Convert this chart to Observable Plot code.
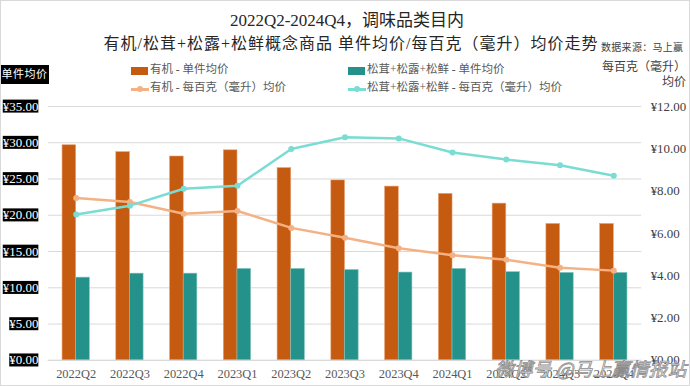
<!DOCTYPE html>
<html>
<head>
<meta charset="utf-8">
<script src="https://cdn.jsdelivr.net/npm/d3@7"></script>
<script src="https://cdn.jsdelivr.net/npm/@observablehq/plot@0.6"></script>
<style>
  html, body { margin: 0; padding: 0; background: #fff; }
  #wrap { position: relative; width: 690px; height: 386px; box-sizing: border-box; border: 1px solid #d9d9d9; overflow: hidden;
          font-family: "Liberation Serif", "Noto Sans CJK SC", serif; color: #404040; }
  .abs { position: absolute; white-space: nowrap; line-height: 1; z-index: 2; }
  #t1 { left: 0; width: 692px; top: 11px; text-align: center; font-size: 17px; color: #262626; }
  #t2 { left: 0; width: 700px; top: 35px; text-align: center; font-size: 16px; color: #262626; letter-spacing: 1px; }
  #src { left: 600px; top: 42px; font-size: 10px; color: #404040; letter-spacing: 0.3px; }
  #rt1 { left: 601px; top: 60px; font-size: 12px; color: #404040; }
  #rt2 { left: 661px; top: 75px; font-size: 12px; color: #404040; }
  #lt { left: -1px; top: 64px; width: 49px; height: 19px; background: #000; color: #fff; font-size: 11px; line-height: 19px; text-align: center; letter-spacing: 0.5px; }
  .leg { font-size: 11.5px; color: #595959; }
  #chart { position: absolute; left: -1px; top: 94px; z-index: 1; }
  #wm { left: 494px; top: 358px; font-size: 18.5px; color: #fff; font-family: "Noto Sans CJK SC", sans-serif; font-style: italic;
        -webkit-text-stroke: 0.8px #8c8c8c; letter-spacing: 0.3px; z-index: 3; }
</style>
</head>
<body>
<div id="wrap">
  <div id="chart"></div>
  <div id="t1" class="abs">2022Q2-2024Q4，调味品类目内</div>
  <div id="t2" class="abs">有机/松茸+松露+松鲜概念商品 单件均价/每百克（毫升）均价走势</div>
  <div id="src" class="abs">数据来源：马上赢</div>
  <div id="rt1" class="abs">每百克（毫升）</div>
  <div id="rt2" class="abs">均价</div>
  <div id="lt" class="abs">单件均价</div>
  <div id="legend"></div>
  <div id="wm" class="abs">微博号 @马上赢情报站</div>
</div>
<script>
const quarters = ["2022Q2","2022Q3","2022Q4","2023Q1","2023Q2","2023Q3","2023Q4","2024Q1","2024Q2","2024Q3","2024Q4"];
const organicUnit = [29.65, 28.7, 28.1, 28.95, 26.5, 24.8, 23.95, 22.95, 21.6, 18.8, 18.8];
const matsutakeUnit = [11.4, 11.95, 11.95, 12.6, 12.6, 12.45, 12.1, 12.6, 12.15, 12.05, 12.05];
const organicPer100 = [7.67, 7.48, 6.93, 7.06, 6.26, 5.79, 5.30, 4.97, 4.75, 4.38, 4.24];
const matsutakePer100 = [6.89, 7.31, 8.11, 8.25, 9.99, 10.54, 10.49, 9.82, 9.49, 9.22, 8.72];

const seriesNames = ["有机 - 单件均价", "松茸+松露+松鲜 - 单件均价", "有机 - 每百克（毫升）均价", "松茸+松露+松鲜 - 每百克（毫升）均价"];
const leftTicks = [0, 5, 10, 15, 20, 25, 30, 35];
const rightTicks = [0, 2, 4, 6, 8, 10, 12];

const colors = { orangeBar: "#C55A11", tealBar: "#24918A", orangeLine: "#F4B183", tealLine: "#7ADCD3" };

const leftMax = 35, rightMax = 12;
const k = leftMax / rightMax;

const rows = quarters.map((q, i) => ({
  q, ou: organicUnit[i], mu: matsutakeUnit[i], op: organicPer100[i], mp: matsutakePer100[i]
}));

// Legend (HTML)
const legend = document.getElementById("legend");
const legItems = [
  { x: 130, y: 70, type: "rect", color: colors.orangeBar, text: seriesNames[0] },
  { x: 347, y: 70, type: "rect", color: colors.tealBar, text: seriesNames[1] },
  { x: 130, y: 88, type: "line", color: colors.orangeLine, text: seriesNames[2] },
  { x: 347, y: 88, type: "line", color: colors.tealLine, text: seriesNames[3] }
];
legItems.forEach(it => {
  const sw = document.createElement("div");
  sw.className = "abs";
  if (it.type === "rect") {
    Object.assign(sw.style, { left: it.x + "px", top: (it.y - 4) + "px", width: "17px", height: "8px", background: it.color });
  } else {
    Object.assign(sw.style, { left: it.x + "px", top: (it.y - 1) + "px", width: "18px", height: "2.5px", background: it.color });
    const dot = document.createElement("div");
    dot.className = "abs";
    Object.assign(dot.style, { left: (it.x + 6) + "px", top: (it.y - 3) + "px", width: "6px", height: "6px", borderRadius: "3px", background: it.color });
    legend.appendChild(dot);
  }
  legend.appendChild(sw);
  const t = document.createElement("div");
  t.className = "abs leg";
  t.textContent = it.text;
  Object.assign(t.style, { left: (it.x + 19) + "px", top: (it.y - 7) + "px" });
  legend.appendChild(t);
});

const serif = "Liberation Serif";

const plot = Plot.plot({
  width: 692,
  height: 292,
  marginTop: 11,
  marginBottom: 26,
  marginLeft: 48,
  marginRight: 48,
  style: "font-family: 'Liberation Serif', 'Noto Sans CJK SC', serif; font-size: 12px; color: #595959; background: transparent; overflow: visible;",
  x: { domain: quarters, padding: 0, label: null },
  y: { domain: [0, leftMax], label: null },
  marks: [
    Plot.gridY(leftTicks, { stroke: "#d9d9d9", strokeOpacity: 1, strokeWidth: 1 }),
    Plot.barY(rows, { x: "q", y: "ou", fill: colors.orangeBar, stroke: "#e9a070", strokeWidth: 0.6, insetLeft: 13.3, insetRight: 27 }),
    Plot.barY(rows, { x: "q", y: "mu", fill: colors.tealBar, stroke: "#7fc4bd", strokeWidth: 0.6, insetLeft: 27, insetRight: 13.3 }),
    Plot.ruleY([0], { stroke: "#d9d9d9", strokeWidth: 1 }),
    Plot.line(rows, { x: "q", y: d => d.op * k, stroke: colors.orangeLine, strokeWidth: 2.5 }),
    Plot.dot(rows, { x: "q", y: d => d.op * k, fill: colors.orangeLine, r: 3 }),
    Plot.line(rows, { x: "q", y: d => d.mp * k, stroke: colors.tealLine, strokeWidth: 2.5 }),
    Plot.dot(rows, { x: "q", y: d => d.mp * k, fill: colors.tealLine, r: 3 }),
    Plot.axisX({ tickSize: 0, tickPadding: 9, fontSize: 12.5, fontFamily: serif, fill: "#595959", label: null }),
    Plot.axisY(leftTicks, { anchor: "left", tickSize: 0, tickPadding: 10, fontSize: 13, fontFamily: serif, fill: "#ffffff",
      tickFormat: d => "¥" + d.toFixed(2), label: null }),
    Plot.axisY(rightTicks.map(v => v * k), { anchor: "right", tickSize: 0, tickPadding: 9, fontSize: 13, fontFamily: serif, fill: "#404040",
      tickFormat: d => "¥" + (d / k).toFixed(2), label: null })
  ]
});

document.getElementById("chart").appendChild(plot);

// black boxes behind left tick labels
plot.querySelectorAll("text").forEach(t => {
  if (!t.textContent.startsWith("¥")) return;
  const b = t.getBBox();
  const ctm = t.getCTM();
  const absX = ctm ? ctm.e + b.x : b.x;
  if (absX > 100) return;
  const r = document.createElementNS("http://www.w3.org/2000/svg", "rect");
  r.setAttribute("x", b.x);
  r.setAttribute("y", b.y + 1);
  r.setAttribute("width", b.width);
  r.setAttribute("height", b.height - 2);
  r.setAttribute("fill", "#000");
  const tr = t.getAttribute("transform");
  if (tr) r.setAttribute("transform", tr);
  t.parentNode.insertBefore(r, t);
});
</script>
</body>
</html>
